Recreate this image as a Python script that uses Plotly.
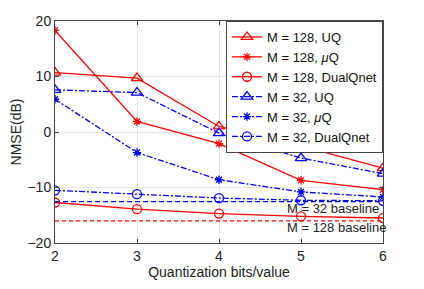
import plotly.graph_objects as go

bits = [2, 3, 4, 5, 6]
m128_uq = [10.7, 9.7, 1.0, -2.5, -6.5]
m128_muq = [18.3, 1.9, -2.1, -8.7, -10.4]
m128_dq = [-12.7, -13.9, -14.7, -15.2, -15.5]
m32_uq = [7.6, 7.1, -0.2, -4.7, -7.5]
m32_muq = [5.9, -3.7, -8.6, -10.8, -11.7]
m32_dq = [-10.5, -11.2, -11.9, -12.3, -12.4]
baseline_32 = -12.55
baseline_128 = -16.0

RED = "#FF0000"
BLUE = "#0000FF"
DASHDOT = "6px,2px,2px,2px"

fig = go.Figure()

def add(y, name, color, dash, symbol, size=9):
    fig.add_trace(go.Scatter(
        x=bits, y=y, name=name, mode="lines+markers",
        line=dict(color=color, width=1.3, dash=dash),
        marker=dict(symbol=symbol, size=size, color=color,
                    line=dict(color=color, width=1.3)),
    ))

add(m128_uq, "M = 128, UQ", RED, "solid", "triangle-up-open", 10)
add(m128_muq, "M = 128, <i>μ</i>Q", RED, "solid", "asterisk-open", 7)
add(m128_dq, "M = 128, DualQnet", RED, "solid", "circle-open", 9)
add(m32_uq, "M = 32, UQ", BLUE, DASHDOT, "triangle-up-open", 10)
add(m32_muq, "M = 32, <i>μ</i>Q", BLUE, DASHDOT, "asterisk-open", 7)
add(m32_dq, "M = 32, DualQnet", BLUE, DASHDOT, "circle-open", 9)

# baselines
fig.add_trace(go.Scatter(x=[bits[0], bits[-1]], y=[baseline_32, baseline_32], mode="lines",
                         line=dict(color=BLUE, width=1.3, dash="5px,3px"), showlegend=False))
fig.add_trace(go.Scatter(x=[bits[0], bits[-1]], y=[baseline_128, baseline_128], mode="lines",
                         line=dict(color=RED, width=1.3, dash="4px,3px"), showlegend=False))

fig.add_annotation(x=4.81, y=baseline_32, text="M = 32 baseline", showarrow=False,
                   xanchor="left", yanchor="top", yshift=3,
                   font=dict(size=13, color="#222"))
fig.add_annotation(x=4.81, y=baseline_128, text="M = 128 baseline", showarrow=False,
                   xanchor="left", yanchor="top", yshift=3,
                   font=dict(size=13, color="#222"))

axis_common = dict(showline=True, linecolor="#444", linewidth=1, mirror="ticks",
                   ticks="inside", ticklen=4, tickcolor="#444",
                   showgrid=True, gridcolor="#e6e6e6", gridwidth=1, zeroline=False,
                   automargin=False,
                   tickfont=dict(size=14, color="#222"))

fig.update_xaxes(range=[2, 6], tickvals=bits,
                 title=dict(text="Quantization bits/value", font=dict(size=14, color="#222"), standoff=4),
                 **axis_common)
fig.update_yaxes(range=[-20, 20], tickvals=[-20, -10, 0, 10, 20],
                 title=dict(text="NMSE(dB)", font=dict(size=14, color="#222"), standoff=4),
                 ticklabelstandoff=0,
                 **axis_common)

# The page body has an 8px margin, so margins are offset accordingly
fig.update_layout(
    width=424, height=289,
    margin=dict(l=47, r=49, t=13, b=54),
    paper_bgcolor="white", plot_bgcolor="white",
    font=dict(family="Liberation Sans, Arial, sans-serif", color="#222"),
    legend=dict(x=1, y=1, xanchor="right", yanchor="top",
                bgcolor="white", bordercolor="#444", borderwidth=1,
                font=dict(size=13, color="#111"),
                tracegroupgap=0, itemwidth=30),
    showlegend=True,
)

fig.write_html("out.html")
